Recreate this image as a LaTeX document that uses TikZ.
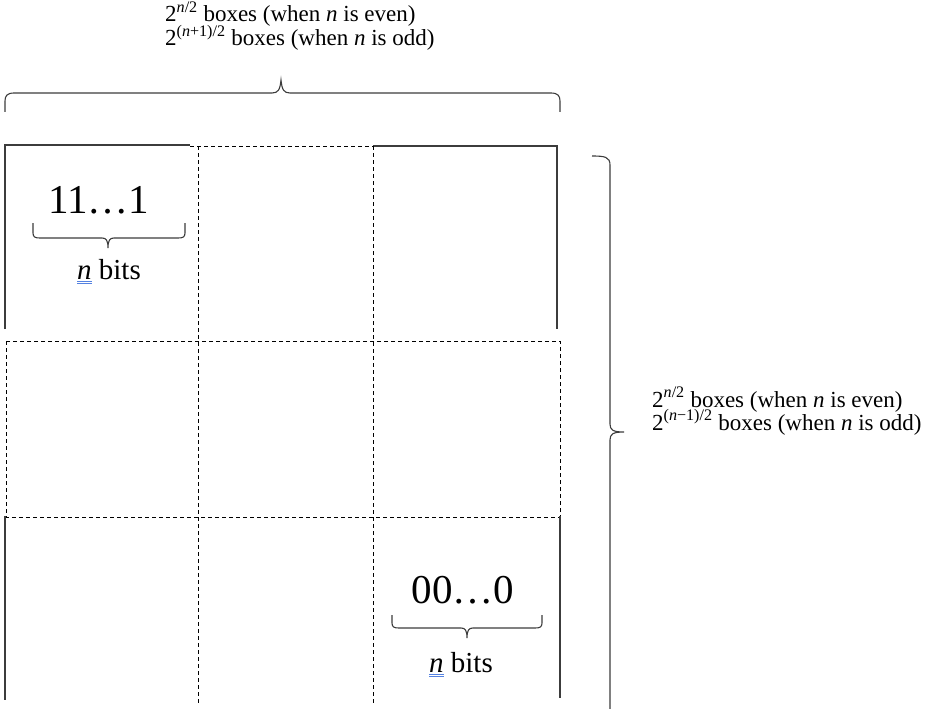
\documentclass[tikz,border=0pt]{standalone}
\usepackage{fontspec}
\setmainfont{Liberation Serif}
\definecolor{ulblue}{RGB}{85,130,225}
\definecolor{linegray}{RGB}{60,60,60}
\newcommand{\bluen}{\leavevmode\setbox0\hbox{\textit{n}}\rlap{\color{ulblue}\rule[-2.6pt]{\wd0}{0.9pt}}\rlap{\color{ulblue}\rule[-5pt]{\wd0}{0.9pt}}\box0}
\begin{document}
\begin{tikzpicture}[x=1pt,y=-1pt,
  solidl/.style={draw=linegray,line width=1.1pt},
  dashl/.style={draw=black,line width=0.8pt,dash pattern=on 4pt off 3pt},
  bracel/.style={draw=linegray,line width=1.1pt},
  lbl/.style={font=\fontsize{23}{25}\selectfont,anchor=base west,inner sep=0pt},
  big/.style={font=\fontsize{41}{44}\selectfont,anchor=base,inner sep=0pt},
  bits/.style={font=\fontsize{29}{31}\selectfont,anchor=base,inner sep=0pt}]
\useasboundingbox (0,0) rectangle (930,709);

% top row
\draw[solidl] (5,329) -- (5,145) -- (190,145);
\draw[dashl] (190,146) -- (373,146);
\draw[solidl] (373,146) -- (557,146) -- (557,329);
% column dividers
\draw[dashl] (198,146) -- (198,705);
\draw[dashl] (373,146) -- (373,705);
% middle row
\draw[dashl] (6,341) rectangle (560,517);
% bottom row
\draw[solidl] (5,516) -- (5,700);
\draw[solidl] (560,516) -- (560,698);

% top brace
\draw[bracel] (5,112) -- (5,101) .. controls (5,96) and (7,93) .. (14,93) -- (272,93)
  .. controls (278,93) and (280,90) .. (281,80) .. controls (282,90) and (284,93) .. (290,93)
  -- (551,93) .. controls (558,93) and (560,96) .. (560,101) -- (560,112);
% right brace
\draw[bracel] (592,156) .. controls (605,156) and (610,157) .. (610,165) -- (610,424)
  .. controls (610,430) and (613,432) .. (624,432) .. controls (613,432) and (610,434) .. (610,440)
  -- (610,712);
% small braces
\draw[bracel] (33,223) -- (33,233) .. controls (33,237) and (35,238) .. (40,238) -- (102,238)
  .. controls (106,238) and (108,240) .. (108,248) .. controls (108,240) and (110,238) .. (114,238)
  -- (178,238) .. controls (183,238) and (185,237) .. (185,233) -- (185,223);
\draw[bracel] (392,615) -- (392,623) .. controls (392,627) and (394,628) .. (399,628) -- (461,628)
  .. controls (465,628) and (467,630) .. (467,638) .. controls (467,630) and (469,628) .. (473,628)
  -- (535,628) .. controls (540,628) and (542,627) .. (542,623) -- (542,615);

% texts
\node[lbl] (t1) at (165,22) {2\textsuperscript{\textit{n}/2} boxes (when \textit{n} is even)};
\node[lbl] (t2) at (165,46) {2\textsuperscript{(\textit{n}+1)/2} boxes (when \textit{n} is odd)};
\node[lbl] (r1) at (652,407) {2\textsuperscript{\textit{n}/2} boxes (when \textit{n} is even)};
\node[lbl] (r2) at (652,430) {2\textsuperscript{(\textit{n}−1)/2} boxes (when \textit{n} is odd)};
\node[big] (ones) at (99,213) {11…1};
\node[bits] (b1) at (109,279) {\bluen{} bits};
\node[big] (zeros) at (463,603) {00…0};
\node[bits] (b2) at (461,672) {\bluen{} bits};
\end{tikzpicture}
\end{document}
